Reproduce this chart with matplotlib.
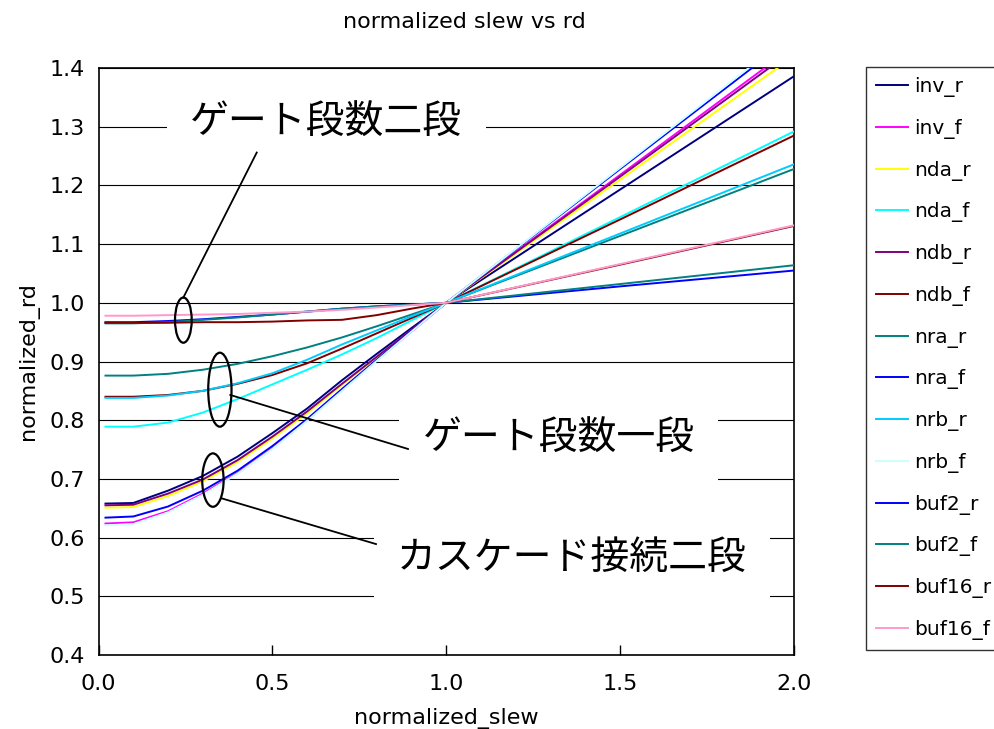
import matplotlib
matplotlib.use("Agg")
import matplotlib.pyplot as plt
from matplotlib.patches import Ellipse

plt.rcParams['font.family'] = ['DejaVu Sans', 'Noto Sans CJK JP']
JP = ['Noto Sans CJK JP', 'DejaVu Sans']

# normalized slew sample points (shared by all series)
slew = [0.02, 0.1, 0.2, 0.3, 0.4, 0.5, 0.6, 0.7, 0.8, 0.9, 1.0, 1.5, 2.0]

inv_r = [0.658, 0.659, 0.680, 0.705, 0.738, 0.778, 0.820, 0.868, 0.913, 0.957, 1.0, 1.193, 1.386]
inv_f = [0.624, 0.626, 0.645, 0.675, 0.710, 0.752, 0.800, 0.851, 0.902, 0.951, 1.0, 1.218, 1.437]
nda_r = [0.651, 0.652, 0.671, 0.696, 0.729, 0.769, 0.812, 0.860, 0.907, 0.953, 1.0, 1.210, 1.420]
nda_f = [0.789, 0.789, 0.796, 0.813, 0.836, 0.861, 0.886, 0.912, 0.940, 0.970, 1.0, 1.146, 1.292]
ndb_r = [0.655, 0.656, 0.675, 0.699, 0.732, 0.772, 0.815, 0.862, 0.908, 0.954, 1.0, 1.215, 1.431]
ndb_f = [0.840, 0.840, 0.843, 0.850, 0.862, 0.877, 0.897, 0.922, 0.948, 0.974, 1.0, 1.142, 1.285]
nra_r = [0.876, 0.876, 0.879, 0.886, 0.896, 0.909, 0.924, 0.941, 0.960, 0.980, 1.0, 1.114, 1.228]
nra_f = [0.634, 0.636, 0.653, 0.680, 0.714, 0.756, 0.802, 0.853, 0.903, 0.952, 1.0, 1.228, 1.455]
nrb_r = [0.838, 0.838, 0.842, 0.850, 0.863, 0.880, 0.903, 0.929, 0.953, 0.977, 1.0, 1.118, 1.236]
nrb_f = [0.621, 0.623, 0.643, 0.673, 0.709, 0.751, 0.799, 0.850, 0.901, 0.951, 1.0, 1.230, 1.460]
buf2_r = [0.967, 0.967, 0.969, 0.972, 0.976, 0.980, 0.985, 0.990, 0.994, 0.997, 1.0, 1.028, 1.055]
buf2_f = [0.965, 0.965, 0.967, 0.971, 0.975, 0.980, 0.985, 0.990, 0.994, 0.997, 1.0, 1.032, 1.064]
buf16_r = [0.966, 0.966, 0.966, 0.967, 0.967, 0.968, 0.970, 0.971, 0.979, 0.990, 1.0, 1.065, 1.131]
buf16_f = [0.978, 0.978, 0.979, 0.980, 0.981, 0.983, 0.985, 0.988, 0.992, 0.996, 1.0, 1.066, 1.132]

names = ["inv_r", "inv_f", "nda_r", "nda_f", "ndb_r", "ndb_f", "nra_r",
         "nra_f", "nrb_r", "nrb_f", "buf2_r", "buf2_f", "buf16_r", "buf16_f"]
series = [inv_r, inv_f, nda_r, nda_f, ndb_r, ndb_f, nra_r,
          nra_f, nrb_r, nrb_f, buf2_r, buf2_f, buf16_r, buf16_f]
colors = ["#000080", "#FF00FF", "#FFFF00", "#00FFFF", "#800080", "#800000", "#008080",
          "#0000FF", "#00CCFF", "#CCFFFF", "#0000FF", "#008080", "#800000", "#FF99CC"]

fig = plt.figure(figsize=(9.94, 7.29), dpi=100)
ax = fig.add_axes([0.0991, 0.1015, 0.6997, 0.8052])

for name, ys, c in zip(names, series, colors):
    ax.plot(slew, ys, color=c, lw=1.4, label=name, zorder=3)

ax.set_xlim(0, 2.0)
ax.set_ylim(0.4, 1.4)
ax.set_xticks([0.0, 0.5, 1.0, 1.5, 2.0])
ax.set_yticks([0.4 + 0.1 * i for i in range(11)])
ax.xaxis.set_major_formatter(matplotlib.ticker.FormatStrFormatter('%.1f'))
ax.yaxis.set_major_formatter(matplotlib.ticker.FormatStrFormatter('%.1f'))
ax.tick_params(axis='x', direction='in', length=7, width=1, pad=14, labelsize=16)
ax.tick_params(axis='y', direction='in', length=0, pad=10, labelsize=16)
ax.grid(axis='y', color='black', lw=0.8, zorder=1)
for sp in ax.spines.values():
    sp.set_linewidth(1.2)
    sp.set_color('black')

ax.set_xlabel("normalized_slew", fontsize=16)
ax.xaxis.set_label_coords(0.5, -0.09)
ax.set_ylabel("normalized_rd", fontsize=16)
ax.yaxis.set_label_coords(-0.086, 0.5)
fig.text(464 / 994, 1 - 22 / 729, "normalized slew vs rd", ha='center', va='center', fontsize=16)

# group annotations: text boxes, ellipses round each bundle, leader lines
box = dict(boxstyle='square,pad=0.6', facecolor='white', edgecolor='none')
ax.text(0.655, 1.306, "ゲート段数二段", fontsize=28, family=JP, ha='center', va='center', bbox=box, zorder=4)
ax.text(1.323, 0.768, "ゲート段数一段", fontsize=28, family=JP, ha='center', va='center', bbox=box, zorder=4)
ax.text(1.362, 0.565, "カスケード接続二段", fontsize=28, family=JP, ha='center', va='center', bbox=box, zorder=4)

for cx, cy, w, h in [(0.244, 0.9705, 0.048, 0.077), (0.349, 0.852, 0.067, 0.126), (0.329, 0.698, 0.0615, 0.091)]:
    ax.add_patch(Ellipse((cx, cy), w, h, fill=False, edgecolor='black', lw=1.6, zorder=5))

ax.plot([0.244, 0.455], [1.009, 1.256], color='black', lw=1.3, zorder=5)
ax.plot([0.379, 0.890], [0.843, 0.751], color='black', lw=1.3, zorder=5)
ax.plot([0.3535, 0.798], [0.667, 0.589], color='black', lw=1.3, zorder=5)

handles, labels = ax.get_legend_handles_labels()
leg = fig.legend(handles, labels, loc='upper left', bbox_to_anchor=(866 / 994, 1 - 67 / 729),
                 borderaxespad=0, fontsize=14.5, frameon=True, fancybox=False,
                 handlelength=1.6, handletextpad=0.3, labelspacing=1.08, borderpad=0.5)
leg.get_frame().set_edgecolor('black')
leg.get_frame().set_linewidth(1.0)

fig.savefig("out.png", dpi=100)
